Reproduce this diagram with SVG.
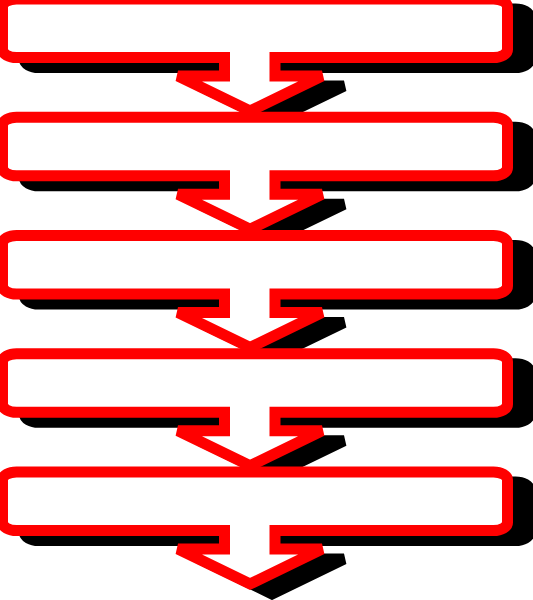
<svg xmlns="http://www.w3.org/2000/svg" xmlns:xlink="http://www.w3.org/1999/xlink" width="533" height="600" viewBox="0 0 533 600">
  <style>
    .shape { fill: #ffffff; stroke: #ff0000; stroke-width: 11; stroke-linejoin: miter; stroke-miterlimit: 2; }
    .shadow { fill: #000000; stroke: #000000; stroke-width: 11; stroke-linejoin: miter; stroke-miterlimit: 2; }
  </style>
  <defs>
    <path id="callout" d="M 16.5,-64 H 493.5 A 14 8 0 0 1 507.5,-56 V -13.5 A 14 8 0 0 1 493.5,-5.5 H 275 V 13 H 322 L 250,48 L 178,13 H 224.5 V -5.5 H 16.5 A 14 8 0 0 1 2.5,-13.5 V -56 A 14 8 0 0 1 16.5,-64 Z"/>
  </defs>
  <rect width="533" height="600" fill="#ffffff"/>
  <g id="node1">
    <use xlink:href="#callout" href="#callout" class="shadow" transform="translate(22,73)"/>
    <use xlink:href="#callout" href="#callout" class="shape" transform="translate(0,63)"/>
  </g>
  <g id="node2">
    <use xlink:href="#callout" href="#callout" class="shadow" transform="translate(22,191.25)"/>
    <use xlink:href="#callout" href="#callout" class="shape" transform="translate(0,181.25)"/>
  </g>
  <g id="node3">
    <use xlink:href="#callout" href="#callout" class="shadow" transform="translate(22,309.5)"/>
    <use xlink:href="#callout" href="#callout" class="shape" transform="translate(0,299.5)"/>
  </g>
  <g id="node4">
    <use xlink:href="#callout" href="#callout" class="shadow" transform="translate(22,427.75)"/>
    <use xlink:href="#callout" href="#callout" class="shape" transform="translate(0,417.75)"/>
  </g>
  <g id="node5">
    <use xlink:href="#callout" href="#callout" class="shadow" transform="translate(22,546)"/>
    <use xlink:href="#callout" href="#callout" class="shape" transform="translate(0,536)"/>
  </g>
  <g id="connectors"/>
</svg>
